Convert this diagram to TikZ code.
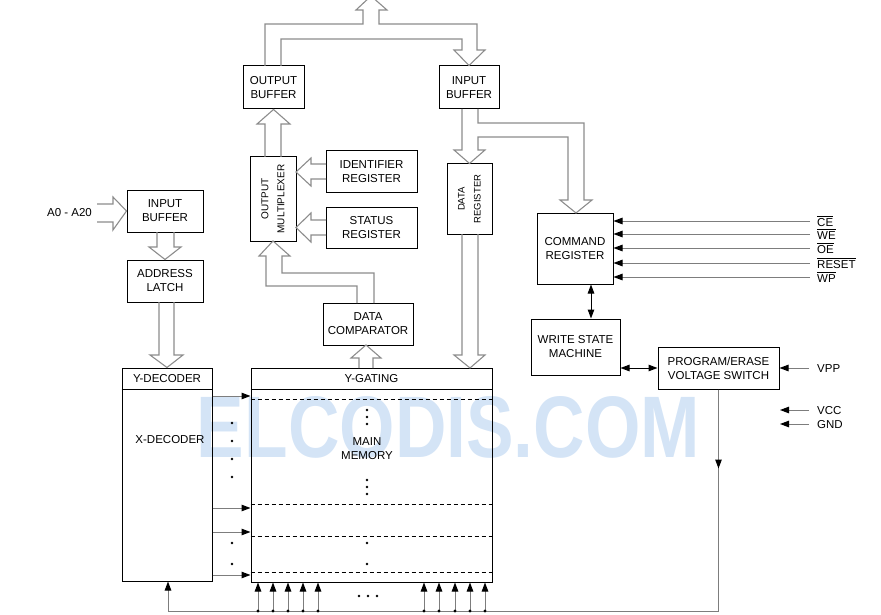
\documentclass[tikz,border=0pt]{standalone}
\usepackage{fontspec}
\setmainfont{Liberation Sans}
\usetikzlibrary{arrows.meta,calc}
\definecolor{wm}{RGB}{212,228,246}
\definecolor{ln}{RGB}{125,125,125}
\definecolor{hl}{RGB}{140,140,140}
\begin{document}
\begin{tikzpicture}[x=1pt,y=-1pt,
  box/.style={draw=black,line width=1pt,inner sep=0pt,align=center,font=\fontsize{11.5}{14}\selectfont},
  lbl/.style={inner sep=0pt,align=center,font=\fontsize{11.5}{14}\selectfont},
  vlbl/.style={inner sep=0pt,align=center,rotate=90},
  hollow/.style={draw=hl,line width=1.1pt,line join=miter},
  conn/.style={draw=ln,line width=1pt},
  tip/.style={-{Triangle[length=9pt,width=6.5pt,color=black]}},
  dtip/.style={draw=black,line width=1pt,{Triangle[length=9pt,width=6.5pt]}-{Triangle[length=9pt,width=6.5pt]}}]
\useasboundingbox (0,0) rectangle (881,615);
\clip (0,0) rectangle (881,615);
% watermark
\node[inner sep=0pt,text=wm] (wmk) at (448.5,427.5) {\resizebox{503pt}{61pt}{\bfseries ELCODIS.COM}};
% boxes
\node[box,minimum width=76pt,minimum height=42pt] (ibufl) at (165,211) {INPUT\\BUFFER};
\node[box,minimum width=76pt,minimum height=42pt] (alatch) at (165,281) {ADDRESS\\LATCH};
\node[box,minimum width=90pt,minimum height=213pt] (xdec) at (167,474.5) {};
\node[box,minimum width=241pt,minimum height=214pt] (mem) at (371.5,475) {};
\node[box,minimum width=61pt,minimum height=43pt] (obuf) at (273.5,87.5) {OUTPUT\\BUFFER};
\node[box,minimum width=60pt,minimum height=43pt] (ibuf) at (469,87.5) {INPUT\\BUFFER};
\node[box,minimum width=46pt,minimum height=84pt] (mux) at (273,199) {};
\node[vlbl,font=\fontsize{10}{16}\selectfont] (muxl) at (mux.center) {OUTPUT\\MULTIPLEXER};
\node[box,minimum width=91pt,minimum height=41pt] (idreg) at (371.5,171.5) {IDENTIFIER\\REGISTER};
\node[box,minimum width=91pt,minimum height=41pt] (streg) at (371.5,227.5) {STATUS\\REGISTER};
\node[box,minimum width=90pt,minimum height=42pt] (dcomp) at (368,324) {DATA\\COMPARATOR};
\node[box,minimum width=45pt,minimum height=70pt] (dreg) at (469.5,199) {};
\node[vlbl,font=\fontsize{9.5}{16}\selectfont] (dregl) at (dreg.center) {DATA\\REGISTER};
\node[box,minimum width=76pt,minimum height=71pt] (cmd) at (575,248.5) {COMMAND\\REGISTER};
\node[box,minimum width=89pt,minimum height=56pt] (wsm) at (575.5,347) {WRITE STATE\\MACHINE};
\node[box,minimum width=121pt,minimum height=42pt] (pes) at (718.5,368) {PROGRAM/ERASE\\VOLTAGE SWITCH};
% header lines
\coordinate (hy) at (0,389);
\draw[line width=1pt] (xdec.west |- hy) -- (xdec.east |- hy);
\draw[line width=1pt] (mem.west |- hy) -- (mem.east |- hy);
\node[lbl] (ydl) at (167,379) {Y-DECODER};
\node[lbl] (xdl) at (170,440) {X-DECODER};
\node[lbl] (ygl) at (371.5,379) {Y-GATING};
\node[lbl] (mml) at (367,449) {MAIN\\MEMORY};
% dashed rows
\foreach \y [count=\i] in {399,504,536,572} {
  \coordinate (d\i) at (0,\y);
  \draw[black,line width=0.9pt,dash pattern=on 4pt off 3pt] (mem.west |- d\i) -- (mem.east |- d\i);
}
% dots
\foreach \y in {410,417,424,480,487,494,543,564} \fill (367,\y) circle (1.4);
\foreach \y in {423,441,459,477,543,564} \fill (232,\y) circle (1.4);
\foreach \x in {359,368,377} \fill (\x,596) circle (1.4);
% x-decoder to memory arrows
\foreach \y [count=\i] in {396,508,532,575} {
  \coordinate (r\i) at (0,\y);
  \draw[conn,tip] (xdec.east |- r\i) -- (mem.west |- r\i);
}
% hollow bus arrows
\node[lbl] (a0) at (69.5,213) {A0 - A20};
\draw[hollow] (97,204) -- (113,204) -- (113,197) -- (ibufl.west) -- (113,230) -- (113,222) -- (97,222);
\draw[hollow] (157,232) -- (157,247) -- (149,247) -- (alatch.north) -- (181,247) -- (174,247) -- (174,232);
\draw[hollow] (159,302) -- (159,355) -- (150,355) -- (xdec.north) -- (183,355) -- (174,355) -- (174,302);
\draw[hollow] (265,157) -- (265,124) -- (257,124) -- (obuf.south) -- (290,124) -- (281,124) -- (281,157);
\draw[hollow] (265,66) -- (265,24) -- (363,24) -- (363,10) -- (356,10) -- (371,-4) -- (387,10) -- (379,10) -- (379,24)
  -- (477,24) -- (477,50) -- (485,50) -- (ibuf.north) -- (454,50) -- (462,50) -- (462,39) -- (281,39) -- (281,66);
\draw[hollow] (462,109) -- (462,150) -- (454,150) -- (dreg.north) -- (485,150) -- (478,150) -- (478,137) -- (568,137)
  -- (568,200) -- (560,200) -- (576,213) -- (592,200) -- (584,200) -- (584,123) -- (478,123) -- (478,109);
\draw[hollow] (462,234) -- (462,355) -- (454,355) -- (470,368) -- (485,355) -- (478,355) -- (478,234);
\draw[hollow] (326,164) -- (311,164) -- (311,158) -- (296,172) -- (311,186) -- (311,179) -- (326,179);
\draw[hollow] (326,220) -- (311,220) -- (311,213) -- (296,227.5) -- (311,242) -- (311,235) -- (326,235);
\draw[hollow] (357,303) -- (357,286) -- (266,286) -- (266,256) -- (259,256) -- (273,241) -- (290,256) -- (282,256)
  -- (282,273) -- (374,273) -- (374,303);
\draw[hollow] (359,368) -- (359,358) -- (351,358) -- (366,345) -- (381,358) -- (373,358) -- (373,368);
% control inputs
\foreach \y/\t [count=\i] in {221/CE,234/WE,248/OE,263/RESET,277/WP} {
  \coordinate (s\i) at (810,\y);
  \draw[conn,tip] (s\i) -- (cmd.east |- s\i);
  \node[lbl,anchor=base west] (sl\i) at (817,\y+5) {$\overline{\mbox{\t}}$};
}
% command register <-> WSM <-> P/E switch
\coordinate (cx) at (591,0);
\draw[dtip] (cmd.south -| cx) -- (wsm.north -| cx);
\draw[dtip] (wsm.east |- pes.west) -- (pes.west);
% VPP, VCC, GND
\coordinate (vpp) at (809,368);
\draw[conn,tip] (vpp) -- (pes.east |- vpp);
\node[lbl,anchor=west] (vppl) at (817,369) {VPP};
\coordinate (vcc) at (809,410);
\coordinate (vcce) at (780,410);
\draw[conn,tip] (vcc) -- (vcce);
\node[lbl,anchor=west] (vccl) at (817,411) {VCC};
\coordinate (gnd) at (809,424);
\coordinate (gnde) at (780,424);
\draw[conn,tip] (gnd) -- (gnde);
\node[lbl,anchor=west] (gndl) at (817,425) {GND};
% bottom feed
\coordinate (yb) at (168,611);
\draw[conn] (pes.south) |- (yb);
\draw[conn,tip] (yb) -- (yb |- xdec.south);
\draw[conn,tip] (pes.south) -- ++(0,79);
\foreach \x in {258,273,288,303,318,424,439,455,470,485} {
  \coordinate (b\x) at (\x,611);
  \draw[conn,tip] (b\x) -- (b\x |- mem.south);
  \fill (b\x) circle (1.6);
}
\end{tikzpicture}
\end{document}
